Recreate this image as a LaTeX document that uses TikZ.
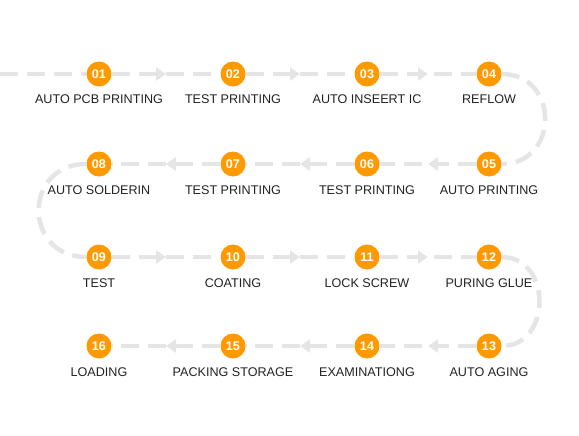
\documentclass[tikz,border=0pt]{standalone}
\usepackage{fontspec}
\setmainfont{Liberation Sans}
\usetikzlibrary{arrows.meta, decorations.markings, positioning}
\definecolor{steporange}{RGB}{255,153,0}
\definecolor{flowgray}{RGB}{229,229,229}
\definecolor{labeltext}{RGB}{34,34,34}

\begin{document}
\begin{tikzpicture}[x=1pt, y=-1pt,
    num/.style={circle, fill=steporange, text=white, minimum size=25pt,
        inner sep=0pt, font=\fontsize{12.6}{14}\selectfont\bfseries},
    lbl/.style={text=labeltext, inner sep=0pt, anchor=base,
        font=\fontsize{12.6}{14}\selectfont},
    flow/.style={draw=flowgray, line width=4.5pt, dash pattern=on 18pt off 9pt},
    midarrow/.style={postaction={decorate}, decoration={markings,
        mark=at position 0.5 with {\arrow[flowgray]{Triangle[width=13pt,length=10pt]}}}},
]
\useasboundingbox (0,0) rectangle (579,436);

% steps
\foreach \i/\x/\y/\t in {1/99/74/AUTO PCB PRINTING, 2/233/74/TEST PRINTING,
    3/367/74/AUTO INSEERT IC, 4/489/74/REFLOW,
    5/489/164/AUTO PRINTING, 6/367/164/TEST PRINTING,
    7/233/164/TEST PRINTING, 8/99/164/AUTO SOLDERIN,
    9/99/257/TEST, 10/233/257/COATING,
    11/367/257/LOCK SCREW, 12/489/257/PURING GLUE,
    13/489/346/AUTO AGING, 14/367/346/EXAMINATIONG,
    15/233/346/PACKING STORAGE, 16/99/346/LOADING}
{
  \node[num] (n\i) at (\x,\y) {\ifnum\i<10 0\fi\i};
  \node[lbl] (l\i) at ([yshift=-30pt]n\i.center) {\t};
}

% flow line
\coordinate (start) at (0,74);
\draw[flow] (start) -- (n1);
\foreach \a/\b in {1/2, 2/3, 3/4, 5/6, 6/7, 7/8, 9/10, 10/11, 11/12,
    13/14, 14/15, 15/16}
  \draw[flow, midarrow] (n\a) -- (n\b);
\draw[flow] (n4) to[out=0, in=0, looseness=1.65] (n5);
\draw[flow] (n8) to[out=180, in=180, looseness=1.75] (n9);
\draw[flow] (n12) to[out=0, in=0, looseness=1.45] (n13);
\end{tikzpicture}
\end{document}
